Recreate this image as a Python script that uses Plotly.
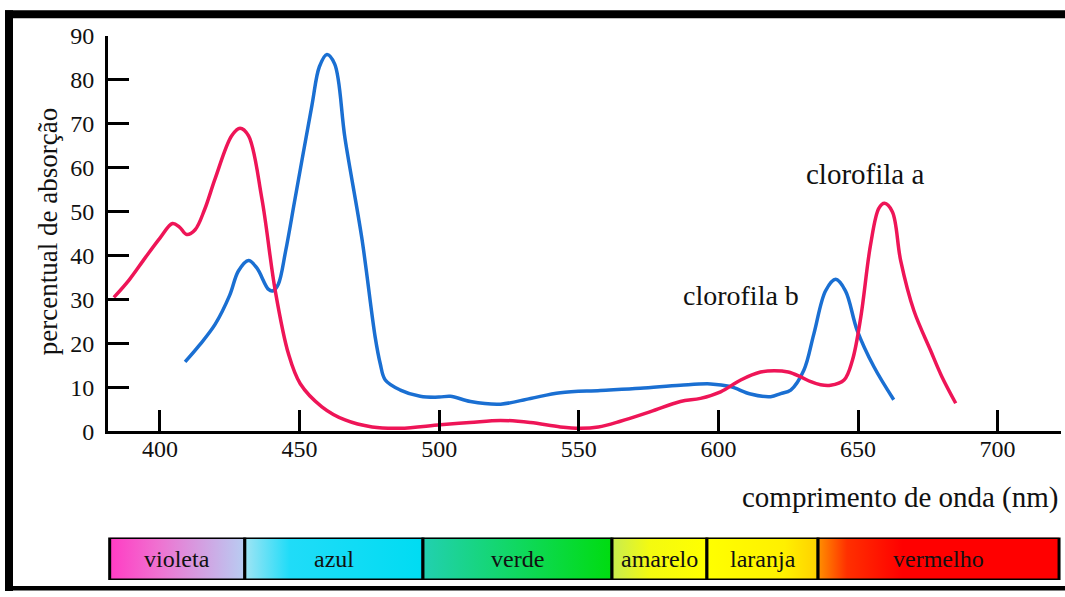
import plotly.graph_objects as go

# Absorption spectra (wavelength in nm, absorption in %)
wl_a = [383.5, 389, 394.7, 400, 404.5, 407, 409.6, 412.6, 416, 419.8, 425.7, 428.7,
        431.7, 436.5, 441.3, 446, 450.2, 458, 466.3, 476, 486, 500.4, 511, 522,
        532.7, 543.4, 550.6, 557, 564.9, 575.7, 586.4, 593.6, 600.8, 608, 615.1,
        620, 625, 629.5, 633.1, 636.6, 640.2, 645, 648, 651, 654.5, 657.5, 659.5,
        662.3, 665.3, 670, 676, 680, 685]
abs_a = [30.5, 34.5, 39.5, 44, 47.3, 46.5, 44.8, 45.9, 50.5, 57.6, 67.3, 69.0,
         67.3, 53, 32, 17.7, 10.9, 5.6, 2.6, 1.0, 0.7, 1.5, 2.0, 2.5,
         2.0, 1.0, 0.7, 1.0, 2.3, 4.5, 6.8, 7.5, 9.0, 11.7, 13.5,
         13.8, 13.5, 12.4, 11.3, 10.6, 10.5, 11.7, 16.2, 26, 42.5, 50.8, 51.9,
         50, 38.8, 27.5, 18.4, 12.5, 6.4]

wl_b = [409, 414, 419.8, 425, 428.1, 431.7, 434.7, 438.9, 440.5, 442.4, 445, 448.4,
        454.4, 457.1, 459.8, 462.6, 466.3, 472.3, 477.1, 478.9, 480.7, 486.1, 493.2, 500,
        504, 511.2, 522, 532.7, 543.4, 557.7, 572, 586.4, 597.2, 604.3, 611.5,
        618.7, 622.3, 625.9, 630.6, 634.2, 638.4, 642, 645.5, 649.7, 655.7, 662.8]
abs_b = [15.8, 19.5, 24.4, 31, 36.5, 38.9, 37.2, 32.3, 32, 33.5, 41, 53,
         74.1, 83.0, 85.8, 83.6, 66.6, 44, 21.4, 15.4, 11.7, 9.4, 8.0, 7.8,
         8.0, 6.8, 6.2, 7.5, 8.8, 9.3, 9.8, 10.5, 10.8, 10.2, 8.5,
         7.9, 8.6, 9.4, 13.9, 22.2, 32.0, 34.6, 32, 23, 14.7, 7.2]

x_ticks = [400, 450, 500, 550, 600, 650, 700]
y_ticks = [0, 10, 20, 30, 40, 50, 60, 70, 80, 90]

# Visible spectrum band
band_names = ["violeta", "azul", "verde", "amarelo", "laranja", "vermelho"]
band_edges = [382, 430.4, 494.2, 561.9, 595.9, 635.7, 722]
band_scales = [
    [[0, "#ff3cc4"], [0.35, "#f070d0"], [1, "#b8cdf2"]],
    [[0, "#a0e4f4"], [0.25, "#20dcf8"], [1, "#00dcf2"]],
    [[0, "#22d0b0"], [0.5, "#10d860"], [1, "#00dc10"]],
    [[0, "#c8ec50"], [0.4, "#f4fa10"], [1, "#ffff00"]],
    [[0, "#ffff00"], [0.7, "#fff000"], [1, "#ffd000"]],
    [[0, "#ff9000"], [0.12, "#ff3000"], [0.35, "#ff0000"], [1, "#ff0000"]],
]

W, H = 1065, 597
L, R, T, B = 108, 4, 36, 12
SERIF = "Liberation Serif"


def paper_x(px):
    return (px - L) / (W - L - R)


def paper_y(py):
    return (H - B - py) / (H - T - B)


fig = go.Figure()

fig.add_trace(go.Scatter(x=wl_b, y=abs_b, mode="lines",
                         line=dict(color="#1a6fd2", width=3.5, shape="spline", smoothing=1.0),
                         name="clorofila b", hoverinfo="skip"))
fig.add_trace(go.Scatter(x=wl_a, y=abs_a, mode="lines",
                         line=dict(color="#ee1557", width=3.5, shape="spline", smoothing=1.0),
                         name="clorofila a", hoverinfo="skip"))

for name, a, b, cs in zip(band_names, band_edges[:-1], band_edges[1:], band_scales):
    fig.add_trace(go.Scatter(x=[a, b, b, a, a], y=[0, 0, 1, 1, 0], xaxis="x", yaxis="y2",
                             mode="lines", fill="toself",
                             fillgradient=dict(type="horizontal", colorscale=cs),
                             line=dict(color="black", width=3), hoverinfo="skip"))
    fig.add_annotation(x=(a + b) / 2, y=0.5, xref="x", yref="y2", text=name,
                       showarrow=False, font=dict(family=SERIF, size=24, color="#111"))

axis_style = dict(ticks="inside", ticklen=21, tickwidth=3, tickcolor="black",
                  showline=True, linewidth=3, linecolor="black",
                  showgrid=False, zeroline=False,
                  tickfont=dict(family=SERIF, size=24, color="#111"))

fig.update_layout(
    width=W, height=H,
    margin=dict(l=L, r=R, t=T, b=B),
    plot_bgcolor="white", paper_bgcolor="white",
    showlegend=False,
    font=dict(family=SERIF),
    xaxis=dict(range=[381.4, 722.7], tickvals=x_ticks, ticklabelstandoff=-6, **axis_style),
    yaxis=dict(domain=[paper_y(435), 1], range=[0, 90], tickvals=y_ticks,
               ticklabelstandoff=6, **axis_style),
    yaxis2=dict(domain=[0, paper_y(542)], range=[0, 1], visible=False, anchor="x"),
)

# Axis titles and curve labels
fig.add_annotation(x=paper_x(31), y=paper_y(234), xref="paper", yref="paper",
                   text="percentual de absorção", textangle=-90, showarrow=False,
                   font=dict(family=SERIF, size=27, color="#111"))
fig.add_annotation(x=1.0, y=paper_y(502), xref="paper", yref="paper",
                   xanchor="right", yanchor="middle",
                   text="comprimento de onda (nm)", showarrow=False,
                   font=dict(family=SERIF, size=29, color="#111"))
fig.add_annotation(x=652.5, y=58.5, xref="x", yref="y", text="clorofila a",
                   showarrow=False, font=dict(family=SERIF, size=29, color="#111"))
fig.add_annotation(x=608.2, y=31, xref="x", yref="y", text="clorofila b",
                   showarrow=False, font=dict(family=SERIF, size=28, color="#111"))

# Heavy page frame
for x0, y0, x1, y1 in [(5, 10, 1065, 18), (5, 10, 13, 596), (5, 591, 1065, 595.5)]:
    fig.add_shape(type="rect", xref="paper", yref="paper",
                  x0=paper_x(x0), x1=paper_x(x1), y0=paper_y(y1), y1=paper_y(y0),
                  fillcolor="black", line=dict(width=0), layer="above")

fig.write_html("out.html")
